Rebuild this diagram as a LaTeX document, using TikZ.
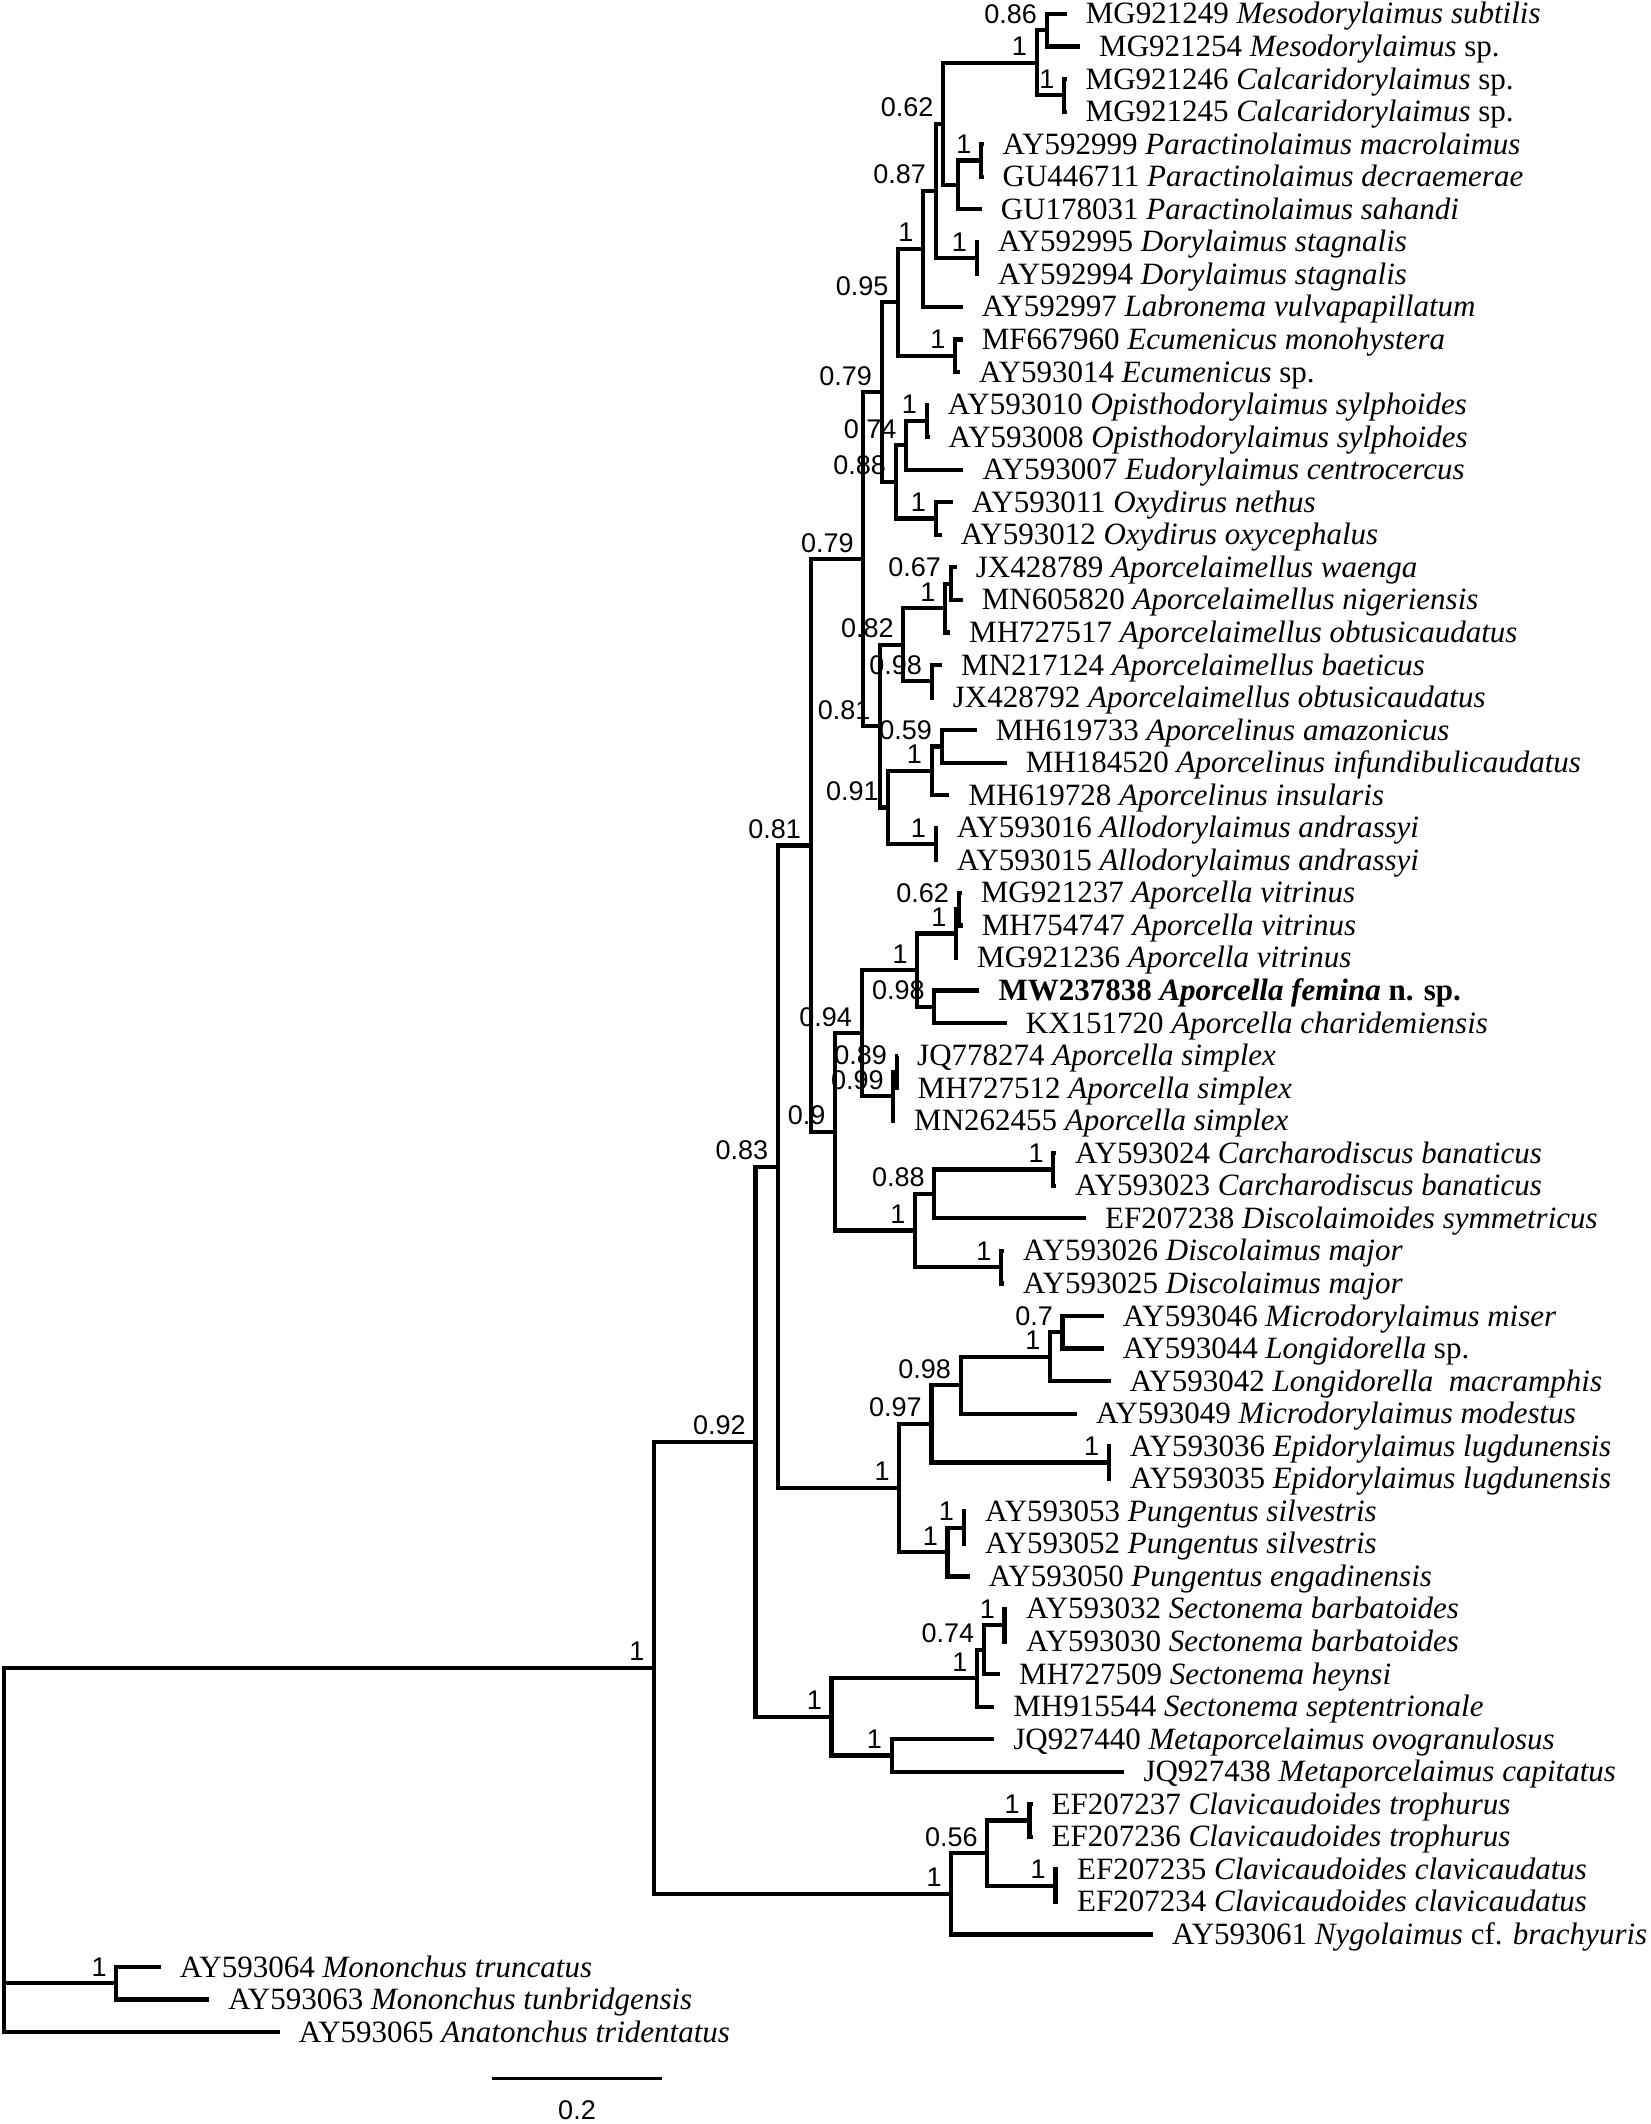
\documentclass[tikz,border=0pt]{standalone}
\usepackage{fontspec}
\setmainfont{Liberation Serif}
\newfontfamily\supfont{Liberation Sans}
\tikzset{
 br/.style={line width=4.2pt, line join=miter, line cap=butt},
 taxon/.style={anchor=base west, inner sep=0pt, xshift=19pt, yshift=-10pt, font=\fontsize{31}{33}\selectfont},
 supp/.style={anchor=base east, inner sep=0pt, xshift=-9.5pt, yshift=7pt, font=\supfont\fontsize{27}{29}\selectfont},
}
\newcommand\tx[4]{\coordinate (t#1) at (#2,#3); \node[taxon] (l#1) at (t#1) {#4};}
\newcommand\nd[6]{\coordinate (#1) at (#2,#3); \draw[br] (#5) -| (#1) |- (#6); \node[supp] (#1lab) at (#1) {#4};}
\newcommand\ndn[5]{\coordinate (#1) at (#2,#3); \draw[br] (#4) -| (#1) |- (#5);}
\begin{document}
\begin{tikzpicture}[x=1pt,y=-1pt]
\path[use as bounding box, fill=white] (0,0) rectangle (1650,2124);
% leaves
\tx{1}{1066.7}{14}{MG921249 \textit{Mesodorylaimus subtilis}}
\tx{2}{1080}{46.55}{MG921254 \textit{Mesodorylaimus} sp.}
\tx{3}{1066.5}{79.1}{MG921246 \textit{Calcaridorylaimus} sp.}
\tx{4}{1066.5}{111.65}{MG921245 \textit{Calcaridorylaimus} sp.}
\tx{5}{983.5}{144.2}{AY592999 \textit{Paractinolaimus macrolaimus}}
\tx{6}{983.5}{176.75}{GU446711 \textit{Paractinolaimus decraemerae}}
\tx{7}{981.7}{209.3}{GU178031 \textit{Paractinolaimus sahandi}}
\tx{8}{979}{241.85}{AY592995 \textit{Dorylaimus stagnalis}}
\tx{9}{979}{274.4}{AY592994 \textit{Dorylaimus stagnalis}}
\tx{10}{962.7}{306.95}{AY592997 \textit{Labronema vulvapapillatum}}
\tx{11}{962.7}{339.5}{MF667960 \textit{Ecumenicus monohystera}}
\tx{12}{960}{372.05}{AY593014 \textit{Ecumenicus} sp.}
\tx{13}{928.7}{404.6}{AY593010 \textit{Opisthodorylaimus sylphoides}}
\tx{14}{929.5}{437.15}{AY593008 \textit{Opisthodorylaimus sylphoides}}
\tx{15}{963.3}{469.7}{AY593007 \textit{Eudorylaimus centrocercus}}
\tx{16}{952.7}{502.25}{AY593011 \textit{Oxydirus nethus}}
\tx{17}{941.7}{534.8}{AY593012 \textit{Oxydirus oxycephalus}}
\tx{18}{956.7}{567.35}{JX428789 \textit{Aporcelaimellus waenga}}
\tx{19}{962.7}{599.9}{MN605820 \textit{Aporcelaimellus nigeriensis}}
\tx{20}{950}{632.45}{MH727517 \textit{Aporcelaimellus obtusicaudatus}}
\tx{21}{942}{665}{MN217124 \textit{Aporcelaimellus baeticus}}
\tx{22}{933.7}{697.55}{JX428792 \textit{Aporcelaimellus obtusicaudatus}}
\tx{23}{976.7}{730.1}{MH619733 \textit{Aporcelinus amazonicus}}
\tx{24}{1006.7}{762.65}{MH184520 \textit{Aporcelinus infundibulicaudatus}}
\tx{25}{949.3}{795.2}{MH619728 \textit{Aporcelinus insularis}}
\tx{26}{937.7}{827.75}{AY593016 \textit{Allodorylaimus andrassyi}}
\tx{27}{937.7}{860.3}{AY593015 \textit{Allodorylaimus andrassyi}}
\tx{28}{961.7}{892.85}{MG921237 \textit{Aporcella vitrinus}}
\tx{29}{962.7}{925.4}{MH754747 \textit{Aporcella vitrinus}}
\tx{30}{958}{957.95}{MG921236 \textit{Aporcella vitrinus}}
\tx{31}{979.3}{990.5}{\textbf{MW237838 \textit{Aporcella femina} n. sp.}}
\tx{32}{1006.7}{1023.05}{KX151720 \textit{Aporcella charidemiensis}}
\tx{33}{898}{1055.6}{JQ778274 \textit{Aporcella simplex}}
\tx{34}{898.5}{1088.15}{MH727512 \textit{Aporcella simplex}}
\tx{35}{895}{1120.7}{MN262455 \textit{Aporcella simplex}}
\tx{36}{1056}{1153.25}{AY593024 \textit{Carcharodiscus banaticus}}
\tx{37}{1056}{1185.8}{AY593023 \textit{Carcharodiscus banaticus}}
\tx{38}{1086}{1218.35}{EF207238 \textit{Discolaimoides symmetricus}}
\tx{39}{1004}{1250.9}{AY593026 \textit{Discolaimus major}}
\tx{40}{1004}{1283.45}{AY593025 \textit{Discolaimus major}}
\tx{41}{1103.6}{1316}{AY593046 \textit{Microdorylaimus miser}}
\tx{42}{1103.6}{1348.55}{AY593044 \textit{Longidorella} sp.}
\tx{43}{1110.7}{1381.1}{AY593042 \textit{Longidorella~ macramphis}}
\tx{44}{1076.8}{1413.65}{AY593049 \textit{Microdorylaimus modestus}}
\tx{45}{1111}{1446.2}{AY593036 \textit{Epidorylaimus lugdunensis}}
\tx{46}{1111}{1478.75}{AY593035 \textit{Epidorylaimus lugdunensis}}
\tx{47}{966}{1511.3}{AY593053 \textit{Pungentus silvestris}}
\tx{48}{966}{1543.85}{AY593052 \textit{Pungentus silvestris}}
\tx{49}{969.6}{1576.4}{AY593050 \textit{Pungentus engadinensis}}
\tx{50}{1007}{1608.95}{AY593032 \textit{Sectonema barbatoides}}
\tx{51}{1007}{1641.5}{AY593030 \textit{Sectonema barbatoides}}
\tx{52}{1000}{1674.05}{MH727509 \textit{Sectonema heynsi}}
\tx{53}{994.2}{1706.6}{MH915544 \textit{Sectonema septentrionale}}
\tx{54}{994.2}{1739.15}{JQ927440 \textit{Metaporcelaimus ovogranulosus}}
\tx{55}{1124.3}{1771.7}{JQ927438 \textit{Metaporcelaimus capitatus}}
\tx{56}{1032.5}{1804.25}{EF207237 \textit{Clavicaudoides trophurus}}
\tx{57}{1032.5}{1836.8}{EF207236 \textit{Clavicaudoides trophurus}}
\tx{58}{1058}{1869.35}{EF207235 \textit{Clavicaudoides clavicaudatus}}
\tx{59}{1058}{1901.9}{EF207234 \textit{Clavicaudoides clavicaudatus}}
\tx{60}{1153}{1934.45}{AY593061 \textit{Nygolaimus} cf. \textit{brachyuris}}
\tx{61}{160.7}{1967}{AY593064 \textit{Mononchus truncatus}}
\tx{62}{209.2}{1999.55}{AY593063 \textit{Mononchus tunbridgensis}}
\tx{63}{279.6}{2032.1}{AY593065 \textit{Anatonchus tridentatus}}
% internal nodes
\nd{A}{1046.7}{30.3}{0.86}{t1}{t2}
\nd{B}{1064}{95.4}{1}{t3}{t4}
\nd{C}{1036.7}{62.85}{1}{A}{B}
\nd{F}{981}{160.5}{1}{t5}{t6}
\ndn{E}{958.3}{184.9}{F}{t7}
\nd{G}{943}{123.9}{0.62}{C}{E}
\nd{DP}{976.7}{258.1}{1}{t8}{t9}
\nd{H}{935.7}{191}{0.87}{G}{DP}
\nd{I}{923}{249}{1}{H}{t10}
\nd{EP}{955}{355.8}{1}{t11}{t12}
\nd{J}{898}{302.4}{0.95}{I}{EP}
\nd{OP}{926.7}{420.9}{1}{t13}{t14}
\nd{M}{906}{445.3}{0.74}{OP}{t15}
\nd{XP}{935.7}{518.5}{1}{t16}{t17}
\nd{L}{895.7}{481.9}{0.88}{M}{XP}
\nd{K}{881.7}{392.15}{0.79}{J}{L}
\nd{S}{950.7}{583.6}{0.67}{t18}{t19}
\nd{R}{945}{608}{1}{S}{t20}
\nd{BP}{931.7}{681.3}{0.98}{t21}{t22}
\nd{P}{903.3}{644.65}{0.82}{R}{BP}
\nd{U}{941.7}{746.4}{0.59}{t23}{t24}
\nd{T}{931.7}{770.8}{1}{U}{t25}
\nd{AP}{935.7}{844}{1}{t26}{t27}
\nd{Q}{888.3}{807.4}{0.91}{T}{AP}
\nd{O}{880}{726}{0.81}{P}{Q}
\nd{N}{863.3}{559.1}{0.79}{K}{O}
\nd{VTa}{958.7}{909.1}{0.62}{t28}{t29}
\nd{VT}{956}{933.5}{1}{VTa}{t30}
\nd{FP}{934.3}{1006.8}{0.98}{t31}{t32}
\nd{Ya}{917.3}{970.1}{1}{VT}{FP}
\nd{STa}{896.7}{1071.9}{0.89}{t33}{t34}
\nd{ST}{893.3}{1096.3}{0.99}{STa}{t35}
\nd{Y}{861.7}{1033.2}{0.94}{Ya}{ST}
\nd{CP}{1053.3}{1169.5}{1}{t36}{t37}
\nd{Za}{934.3}{1193.9}{0.88}{CP}{t38}
\nd{DQ}{1001}{1267.2}{1}{t39}{t40}
\nd{Z}{915}{1230.55}{1}{Za}{DQ}
\nd{X}{835}{1131.9}{0.9}{Y}{Z}
\nd{V}{810.7}{845.5}{0.81}{N}{X}
\nd{AE}{1062.5}{1332.3}{0.7}{t41}{t42}
\nd{AD}{1050}{1356.7}{1}{AE}{t43}
\nd{AC}{960.7}{1385.2}{0.98}{AD}{t44}
\nd{EQ}{1108.9}{1462.5}{1}{t45}{t46}
\nd{AB}{931.4}{1423.85}{0.97}{AC}{EQ}
\nd{PTa}{963.6}{1527.6}{1}{t47}{t48}
\nd{PT}{947.5}{1552}{1}{PTa}{t49}
\nd{AA}{899.3}{1487.9}{1}{AB}{PT}
\nd{W}{777.9}{1166.7}{0.83}{V}{AA}
\nd{BD}{1004.5}{1625.2}{1}{t50}{t51}
\nd{BC}{983.9}{1649.6}{0.74}{BD}{t52}
\nd{BB}{977}{1678.1}{1}{BC}{t53}
\nd{BE}{891.6}{1755.4}{1}{t54}{t55}
\nd{BA}{831.5}{1716.75}{1}{BB}{BE}
\nd{NN}{755.4}{1441.7}{0.92}{W}{BA}
\nd{CC}{1029.4}{1820.5}{1}{t56}{t57}
\nd{CD}{1055.4}{1885.6}{1}{t58}{t59}
\nd{CB}{987.3}{1853.05}{0.56}{CC}{CD}
\nd{CA}{951.3}{1893.75}{1}{CB}{t60}
\nd{RR}{654}{1667.7}{1}{NN}{CA}
\nd{MN}{116.3}{1983.3}{1}{t61}{t62}
\coordinate (ROOT) at (4,1850);
\draw[br] (RR) -| (ROOT) |- (t63);
\draw[br] (ROOT) |- (MN);
% scale bar
\coordinate (sbA) at (492.3,2078.5);
\coordinate (sbB) at (662.2,2078.5);
\draw[br, line width=3.4pt] (sbA) -- (sbB);
\node[inner sep=0pt, font=\supfont\fontsize{27}{29}\selectfont] (sbl) at (577,2110) {0.2};
\end{tikzpicture}
\end{document}
